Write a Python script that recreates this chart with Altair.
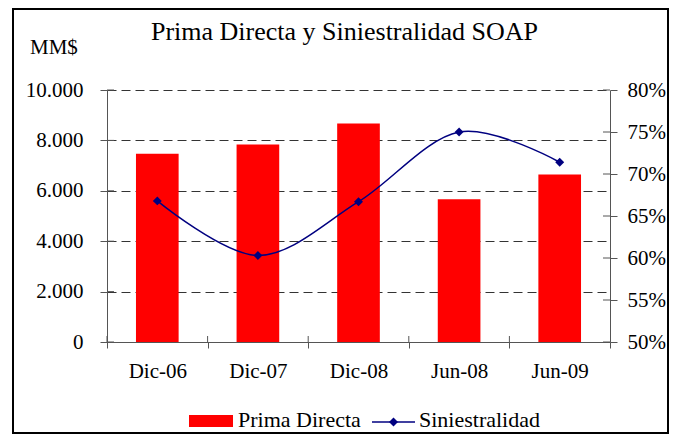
import altair as alt
import pandas as pd

# ---- data -------------------------------------------------------------
categories = ["Dic-06", "Dic-07", "Dic-08", "Jun-08", "Jun-09"]
prima_directa = [7470, 7840, 8670, 5660, 6650]          # MM$
siniestralidad = [0.668, 0.603, 0.667, 0.750, 0.714]    # ratio
left_tick_values = [0, 2000, 4000, 6000, 8000, 10000]
right_tick_values = [0.50, 0.55, 0.60, 0.65, 0.70, 0.75, 0.80]
title_text = "Prima Directa y Siniestralidad SOAP"
unit_text = "MM$"
legend_labels = ["Prima Directa", "Siniestralidad"]

FONT = "Liberation Serif"
W, H = 503, 252
RED = "#FF0000"
NAVY = "#000080"
AXC = "#555555"

df = pd.DataFrame({"cat": categories, "prima": prima_directa, "sini": siniestralidad})
left_df = pd.DataFrame({"prima": left_tick_values})
right_df = pd.DataFrame({"sini": right_tick_values})
one = pd.DataFrame({"k": [0]})

x_axis = alt.Axis(title=None, tickBand="extent", tickSize=6, tickColor=AXC,
                  domainColor=AXC, labelFont=FONT, labelFontSize=21,
                  labelColor="black", labelPadding=12, labelAngle=0)
x_enc = alt.X("cat:N", sort=categories,
              scale=alt.Scale(paddingInner=0, paddingOuter=0), axis=x_axis)

left_scale = alt.Scale(domain=[0, 10000], nice=False, zero=True)
left_axis = alt.Axis(title=None, values=left_tick_values, tickSize=7,
                     tickColor=AXC, domainColor=AXC, grid=True,
                     gridDash=[9, 5], gridColor="#333333", gridWidth=1,
                     labelFont=FONT, labelFontSize=21, labelColor="black",
                     labelPadding=17,
                     labelExpr="replace(format(datum.value, ','), ',', '.')")

right_scale = alt.Scale(domain=[0.5, 0.8], nice=False, zero=False)
right_axis = alt.Axis(title=None, orient="right", values=right_tick_values,
                      format=".0%", tickSize=7, tickColor=AXC,
                      domainColor=AXC, grid=False, labelFont=FONT,
                      labelFontSize=21, labelColor="black", labelPadding=10)

bars = alt.Chart(df).mark_bar(color=RED, width=alt.RelativeBandSize(0.424)).encode(
    x=x_enc,
    y=alt.Y("prima:Q", scale=left_scale, axis=left_axis),
)

left_inner_ticks = alt.Chart(left_df).mark_rule(color=AXC, strokeWidth=1).encode(
    y=alt.Y("prima:Q", scale=left_scale, axis=left_axis),
    x=alt.value(0), x2=alt.value(7),
)

x_inner_ticks = alt.Chart(df).mark_rule(color=AXC, strokeWidth=1).encode(
    x=alt.X("cat:N", sort=categories, bandPosition=0,
            scale=alt.Scale(paddingInner=0, paddingOuter=0), axis=x_axis),
    y=alt.value(H - 6), y2=alt.value(H),
)

frame = alt.Chart(one).mark_rect(filled=False, stroke="black", strokeWidth=2,
                                 fillOpacity=0).encode(
    x=alt.value(-94), x2=alt.value(561), y=alt.value(-81), y2=alt.value(343),
)

title = alt.Chart(pd.DataFrame({"t": [title_text]})).mark_text(
    font=FONT, fontSize=26, color="black", align="center", baseline="alphabetic"
).encode(text="t:N", x=alt.value(237.5), y=alt.value(-50))

unit = alt.Chart(pd.DataFrame({"t": [unit_text]})).mark_text(
    font=FONT, fontSize=21, color="black", align="left", baseline="alphabetic"
).encode(text="t:N", x=alt.value(-77), y=alt.value(-36.5))

leg_rect = alt.Chart(one).mark_rect(color=RED).encode(
    x=alt.value(82), x2=alt.value(126), y=alt.value(325), y2=alt.value(337),
)
leg_text1 = alt.Chart(pd.DataFrame({"t": [legend_labels[0]]})).mark_text(
    font=FONT, fontSize=22, color="black", align="left", baseline="alphabetic"
).encode(text="t:N", x=alt.value(131), y=alt.value(337))
leg_line = alt.Chart(one).mark_rule(color=NAVY, strokeWidth=1.5).encode(
    x=alt.value(265), x2=alt.value(308), y=alt.value(332),
)
leg_pt = alt.Chart(one).mark_point(shape="diamond", filled=True, size=80,
                                   color=NAVY, opacity=1).encode(
    x=alt.value(286.5), y=alt.value(332),
)
leg_text2 = alt.Chart(pd.DataFrame({"t": [legend_labels[1]]})).mark_text(
    font=FONT, fontSize=22, color="black", align="left", baseline="alphabetic"
).encode(text="t:N", x=alt.value(312), y=alt.value(337))

left_group = alt.layer(bars, left_inner_ticks, x_inner_ticks, frame, title, unit,
                       leg_rect, leg_text1, leg_line, leg_pt, leg_text2)

line = alt.Chart(df).mark_line(color=NAVY, strokeWidth=1.5,
                               interpolate="cardinal").encode(
    x=x_enc,
    y=alt.Y("sini:Q", scale=right_scale, axis=right_axis),
)
points = alt.Chart(df).mark_point(shape="diamond", filled=True, size=80,
                                  color=NAVY, opacity=1).encode(
    x=x_enc,
    y=alt.Y("sini:Q", scale=right_scale, axis=right_axis),
)
right_inner_ticks = alt.Chart(right_df).mark_rule(color=AXC, strokeWidth=1).encode(
    y=alt.Y("sini:Q", scale=right_scale, axis=right_axis),
    x=alt.value(W - 7), x2=alt.value(W),
)
right_group = alt.layer(line, points, right_inner_ticks)

chart = alt.layer(left_group, right_group).resolve_scale(y="independent").properties(
    width=W, height=H,
    padding={"left": 99, "top": 82, "right": 60, "bottom": 93},
    autosize=alt.AutoSizeParams(type="none"),
    background="white",
).configure_view(stroke=None)

chart.save("out.html", embed_options={"renderer": "svg", "actions": False})
